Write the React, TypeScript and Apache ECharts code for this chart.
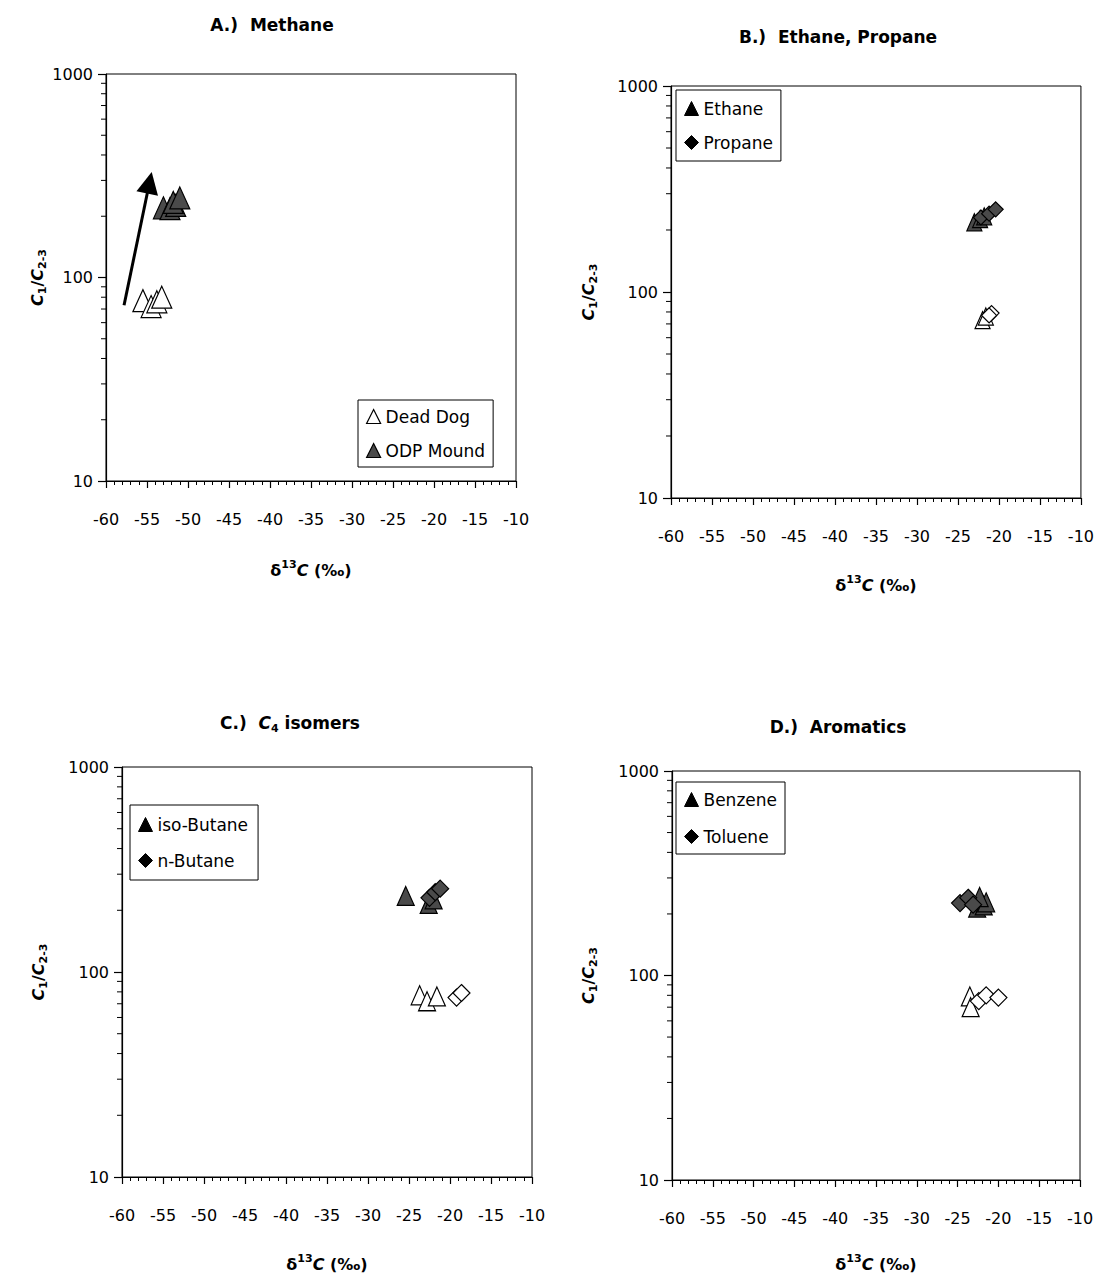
import React, { useEffect, useRef } from "react";
import * as echarts from "echarts";

const FONT = "'DejaVu Sans', 'Noto Sans', sans-serif";

// axis definitions
const X_MIN = -60;
const X_MAX = -10;
const X_STEP = 5;
const Y_MIN = 10;
const Y_MAX = 1000;
const yMinorTicks = [20, 30, 40, 50, 60, 70, 80, 90, 200, 300, 400, 500, 600, 700, 800, 900];

// Panel A: Methane
const methaneDeadDog = [[-55.5, 77], [-54.5, 72], [-53.8, 76], [-53.2, 80]];
const methaneODP = [[-53.0, 220], [-52.2, 218], [-51.5, 226], [-51.8, 234], [-51.0, 246]];
const methaneArrow = [[-57.8, 73], [-54.7, 292]];

// Panel B: Ethane, Propane
const ethaneDeadDog = [[-22.0, 73], [-21.6, 76]];
const ethaneODP = [[-23.0, 218], [-22.3, 226], [-21.8, 233]];
const propaneDeadDog = [[-20.9, 79], [-21.2, 77]];
const propaneODP = [[-22.2, 230], [-21.2, 240], [-20.4, 252]];

// Panel C: C4 isomers
const isoButaneDeadDog = [[-23.7, 77], [-22.8, 72], [-21.6, 76]];
const isoButaneODP = [[-25.4, 235], [-22.6, 215], [-22.0, 226]];
const nButaneDeadDog = [[-19.2, 75], [-18.6, 79]];
const nButaneODP = [[-22.5, 230], [-21.8, 245], [-21.2, 255]];

// Panel D: Aromatics
const benzeneDeadDog = [[-23.5, 79], [-23.4, 70]];
const benzeneODP = [[-22.6, 215], [-21.8, 220], [-21.5, 228], [-22.3, 242]];
const tolueneDeadDog = [[-22.4, 75], [-21.5, 80], [-20.0, 78]];
const tolueneODP = [[-24.7, 226], [-23.7, 240], [-23.1, 222]];

const panelTitles = ["A.)  Methane", "B.)  Ethane, Propane", "{t|C.)  }{ti|C}{ts|4}{t| isomers}", "D.)  Aromatics"];
const legendA = ["Dead Dog", "ODP Mound"];
const legendB = ["Ethane", "Propane"];
const legendC = ["iso-Butane", "n-Butane"];
const legendD = ["Benzene", "Toluene"];

const grids = [
  { left: 106, top: 74, width: 410, height: 407 },
  { left: 671, top: 86, width: 410, height: 412 },
  { left: 122, top: 767, width: 410, height: 410 },
  { left: 672, top: 771, width: 408, height: 409 },
];
const xNameGaps = [78, 76, 76, 73];
const yNameGaps = [56, 72, 73, 73];
const titlePos = [
  [272, 25],
  [838, 37],
  [290, 723],
  [838, 727],
];
const legendPos = [
  { left: 358, top: 400, itemGap: 17, padding: [8, 8, 8, 8] },
  { left: 676, top: 90, itemGap: 17, padding: [10, 8, 10, 8] },
  { left: 130, top: 805, itemGap: 19, padding: [11, 10, 11, 8] },
  { left: 676, top: 782, itemGap: 20, padding: [9, 8, 9, 8] },
];

const OPEN = { color: "#ffffff", borderColor: "#000", borderWidth: 1.2, opacity: 1 };
const GRAY = { color: "#4a4a4a", borderColor: "#000", borderWidth: 1.2, opacity: 1 };
const BLACK = { color: "#000000", borderColor: "#000", borderWidth: 1, opacity: 1 };

const nameRich = {
  n: { fontFamily: FONT, fontSize: 16, fontWeight: "bold", fontStyle: "italic", color: "#000", lineHeight: 22, verticalAlign: "middle" },
  r: { fontFamily: FONT, fontSize: 16, fontWeight: "bold", color: "#000", lineHeight: 22, verticalAlign: "middle" },
  sub: { fontFamily: FONT, fontSize: 11, fontWeight: "bold", color: "#000", lineHeight: 12, verticalAlign: "bottom" },
  sup: { fontFamily: FONT, fontSize: 11, fontWeight: "bold", color: "#000", lineHeight: 12, verticalAlign: "top" },
};

function scatter(name: string, data: number[][], gi: number, symbol: string, style: any, size: any, z = 2) {
  return {
    type: "scatter",
    name,
    xAxisIndex: gi,
    yAxisIndex: gi,
    data,
    symbol,
    symbolSize: size,
    itemStyle: style,
    z,
    silent: true,
  };
}

function minorTickSeries(gi: number) {
  return {
    type: "custom",
    xAxisIndex: gi,
    yAxisIndex: gi,
    silent: true,
    clip: false,
    data: yMinorTicks.map((v) => [X_MIN, v]),
    renderItem: (_p: any, api: any) => {
      const pt = api.coord([api.value(0), api.value(1)]);
      return {
        type: "line",
        shape: { x1: pt[0] - 5, y1: pt[1], x2: pt[0], y2: pt[1] },
        style: { stroke: "#000", lineWidth: 1 },
      };
    },
  };
}

export default function App() {
  const ref = useRef<HTMLDivElement>(null);
  useEffect(() => {
    if (!ref.current) return;
    const chart = echarts.init(ref.current, undefined, { renderer: "svg" });

    const xAxis = grids.map((_, i) => ({
      type: "value",
      gridIndex: i,
      min: X_MIN,
      max: X_MAX,
      interval: X_STEP,
      name: "{r|δ}{sup|13}{n|C}{r| (‰)}",
      nameLocation: "middle",
      nameGap: xNameGaps[i],
      nameTextStyle: { rich: nameRich },
      axisLine: { show: true, onZero: false, lineStyle: { color: "#000", width: 1.2 } },
      axisTick: { show: true, length: 7, lineStyle: { color: "#000", width: 1.2 } },
      minorTick: { show: true, splitNumber: 5, length: 4, lineStyle: { color: "#000", width: 1 } },
      axisLabel: { color: "#000", fontFamily: FONT, fontSize: 16, margin: 30 },
      splitLine: { show: false },
      minorSplitLine: { show: false },
    }));

    const yAxis = grids.map((_, i) => ({
      type: "log",
      logBase: 10,
      gridIndex: i,
      min: Y_MIN,
      max: Y_MAX,
      name: "{n|C}{sub|1}{r|/}{n|C}{sub|2-3}",
      nameLocation: "middle",
      nameRotate: 90,
      nameGap: yNameGaps[i],
      nameTextStyle: { rich: nameRich },
      axisLine: { show: true, onZero: false, lineStyle: { color: "#000", width: 1.2 } },
      axisTick: { show: true, length: 8, lineStyle: { color: "#000", width: 1.2 } },
      axisLabel: {
        color: "#000",
        fontFamily: FONT,
        fontSize: 16,
        margin: 13,
        formatter: (v: number) => String(Math.round(v)),
      },
      splitLine: { show: false },
    }));

    const TRI_A: any = [20, 22];
    const TRI: any = [17, 19];
    const DIA: any = 17;
    const TRI_B: any = [15, 17];
    const DIA_B: any = 15;

    const series: any[] = [
      // A
      scatter(legendA[0], methaneDeadDog, 0, "triangle", OPEN, TRI_A),
      scatter(legendA[1], methaneODP, 0, "triangle", GRAY, TRI_A),
      {
        type: "lines",
        coordinateSystem: "cartesian2d",
        xAxisIndex: 0,
        yAxisIndex: 0,
        silent: true,
        data: [{ coords: methaneArrow }],
        symbol: ["none", "triangle"],
        symbolSize: 22,
        lineStyle: { color: "#000", width: 3, opacity: 1 },
        z: 3,
      },
      // B
      scatter(legendB[0], [], 1, "triangle", BLACK, TRI_B),
      scatter(legendB[1], [], 1, "diamond", BLACK, DIA_B),
      scatter("Ethane Dead Dog", ethaneDeadDog, 1, "triangle", OPEN, TRI_B),
      scatter("Ethane ODP", ethaneODP, 1, "triangle", GRAY, TRI_B),
      scatter("Propane Dead Dog", propaneDeadDog, 1, "diamond", OPEN, DIA_B, 3),
      scatter("Propane ODP", propaneODP, 1, "diamond", GRAY, DIA_B, 3),
      // C
      scatter(legendC[0], [], 2, "triangle", BLACK, TRI),
      scatter(legendC[1], [], 2, "diamond", BLACK, DIA),
      scatter("iso-Butane Dead Dog", isoButaneDeadDog, 2, "triangle", OPEN, TRI),
      scatter("iso-Butane ODP", isoButaneODP, 2, "triangle", GRAY, TRI),
      scatter("n-Butane Dead Dog", nButaneDeadDog, 2, "diamond", OPEN, DIA, 3),
      scatter("n-Butane ODP", nButaneODP, 2, "diamond", GRAY, DIA, 3),
      // D
      scatter(legendD[0], [], 3, "triangle", BLACK, TRI),
      scatter(legendD[1], [], 3, "diamond", BLACK, DIA),
      scatter("Benzene Dead Dog", benzeneDeadDog, 3, "triangle", OPEN, TRI),
      scatter("Benzene ODP", benzeneODP, 3, "triangle", GRAY, TRI),
      scatter("Toluene Dead Dog", tolueneDeadDog, 3, "diamond", OPEN, DIA, 3),
      scatter("Toluene ODP", tolueneODP, 3, "diamond", GRAY, DIA, 3),
      // minor ticks on log axes
      ...grids.map((_, i) => minorTickSeries(i)),
    ];

    const legendStyles: any[][] = [
      [OPEN, GRAY],
      [BLACK, BLACK],
      [BLACK, BLACK],
      [BLACK, BLACK],
    ];
    const legendIcons = [
      ["triangle", "triangle"],
      ["triangle", "diamond"],
      ["triangle", "diamond"],
      ["triangle", "diamond"],
    ];
    const legendData = [legendA, legendB, legendC, legendD];
    const legend = legendData.map((d, i) => ({
      data: d.map((name, k) => ({ name, icon: legendIcons[i][k], itemStyle: legendStyles[i][k] })),
      orient: "vertical",
      left: legendPos[i].left,
      top: legendPos[i].top,
      itemGap: legendPos[i].itemGap,
      padding: legendPos[i].padding,
      itemWidth: 14,
      itemHeight: 14,
      selectedMode: false,
      borderColor: "#000",
      borderWidth: 1,
      backgroundColor: "#fff",
      textStyle: { color: "#000", fontFamily: FONT, fontSize: 17 },
    }));

    const titleRich = {
      t: { fontFamily: FONT, fontSize: 17, fontWeight: "bold", fill: "#000" },
      ti: { fontFamily: FONT, fontSize: 17, fontWeight: "bold", fontStyle: "italic", fill: "#000", lineHeight: 22, verticalAlign: "middle" },
      ts: { fontFamily: FONT, fontSize: 11, fontWeight: "bold", fill: "#000", lineHeight: 12, verticalAlign: "bottom" },
    };

    const graphic = panelTitles.map((t, i) => ({
      type: "text",
      x: titlePos[i][0],
      y: titlePos[i][1],
      style: {
        text: i === 2 ? t : `{t|${t}}`,
        rich: titleRich,
        align: "center",
        verticalAlign: "middle",
        fill: "#000",
      },
    }));

    chart.setOption({
      animation: false,
      backgroundColor: "#ffffff",
      grid: grids.map((g) => ({ ...g, show: true, borderColor: "#000", borderWidth: 1, backgroundColor: "transparent" })),
      xAxis,
      yAxis,
      legend,
      series,
      graphic,
    });

    return () => chart.dispose();
  }, []);

  return (
    <div
      ref={ref}
      style={{ position: "absolute", left: 0, top: 0, width: 1097, height: 1279, background: "#fff" }}
    />
  );
}
